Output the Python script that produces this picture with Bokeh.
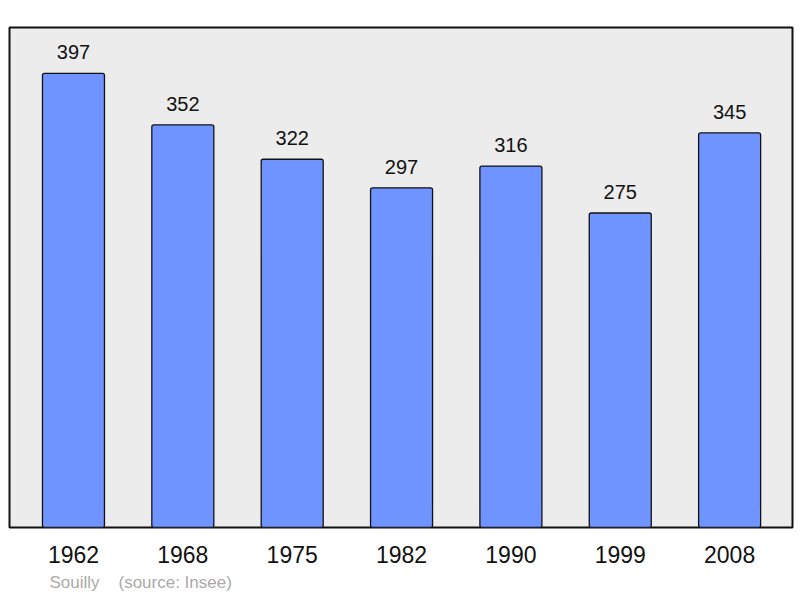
from bokeh.plotting import figure
from bokeh.models import Range1d, FixedTicker, Title, ColumnDataSource
from bokeh.core.properties import value
from bokeh.embed import file_html
from bokeh.resources import INLINE

years = ["1962", "1968", "1975", "1982", "1990", "1999", "2008"]
population = [397, 352, 322, 297, 316, 275, 345]
commune = "Souilly"
source_note = "(source: Insee)"

idx = list(range(len(years)))
src = ColumnDataSource(dict(x=idx, top=population, label=[str(v) for v in population]))

p = figure(width=794, height=597, output_backend="svg", toolbar_location=None,
           x_range=Range1d(-0.585, 6.575), y_range=Range1d(0, 437.2),
           min_border_left=9, min_border_right=2, min_border_top=27, min_border_bottom=0)

p.background_fill_color = "#ececec"
p.border_fill_color = "white"
p.outline_line_color = "#111111"
p.outline_line_width = 2
p.grid.visible = False
p.yaxis.visible = False

p.vbar(x="x", top="top", bottom=0, width=0.567, source=src,
       fill_color="#7094ff", line_color="#111111", line_width=1.3, border_radius=2)
p.text(x="x", y="top", text="label", source=src, y_offset=-21,
       text_align="center", text_baseline="alphabetic",
       text_font=value("Liberation Sans"), text_font_size="20px", text_color="#111111")

xa = p.xaxis[0]
xa.ticker = FixedTicker(ticks=idx)
xa.major_label_overrides = {i: y for i, y in zip(idx, years)}
xa.axis_line_color = None
xa.major_tick_line_color = None
xa.minor_tick_line_color = None
xa.major_label_standoff = 12
xa.major_label_text_font = "Liberation Sans"
xa.major_label_text_font_size = "23px"
xa.major_label_text_color = "#111111"

nb = "\u00a0"
t = Title(text=commune + nb * 4 + source_note, align="left", offset=40,
          text_font="Liberation Sans", text_font_size="17px", text_font_style="normal",
          text_color="#aaaaaa", standoff=11)
p.add_layout(t, "below")

open("out.html", "w").write(file_html(p, INLINE))
